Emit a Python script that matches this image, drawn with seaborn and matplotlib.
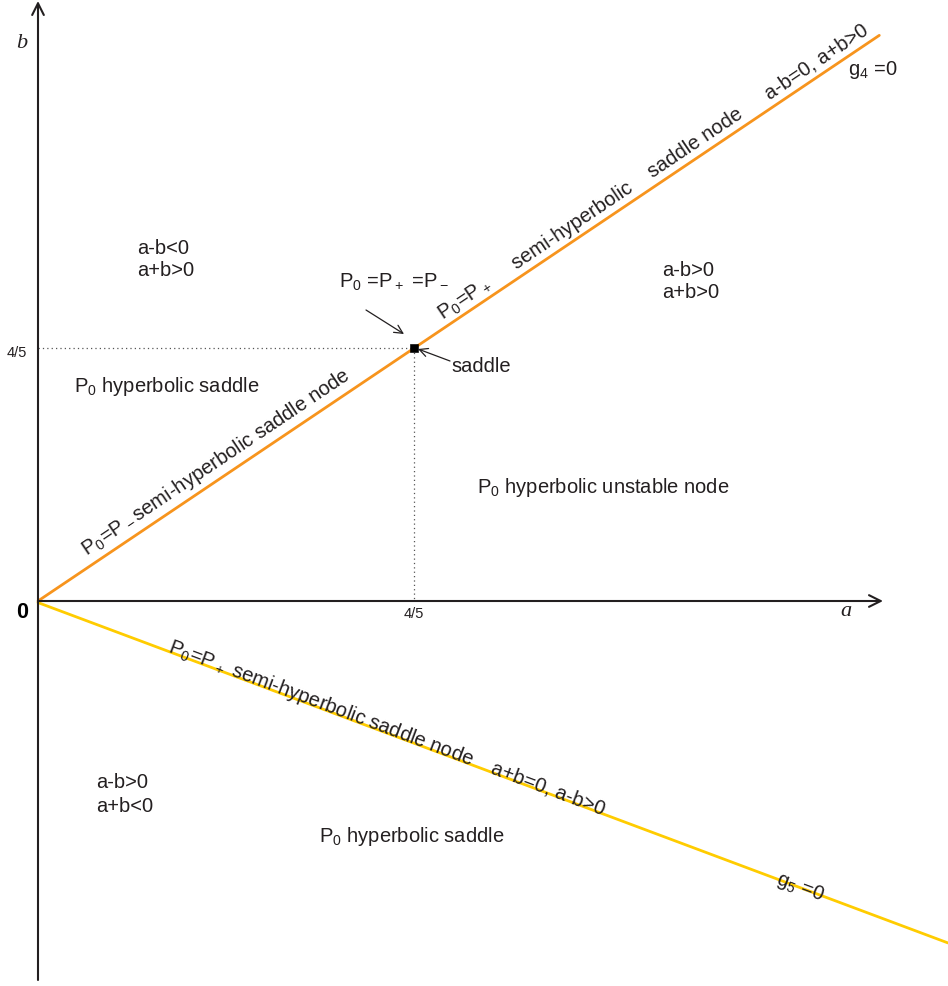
import matplotlib
matplotlib.use("Agg")
import matplotlib.pyplot as plt
import seaborn as sns
import numpy as np

# Bifurcation curves in the (a, b) parameter plane
g4_a = [0.0, 1.79]      # a - b = 0 branch
g4_b = [0.0, 1.79]
g5_a = [0.0, 1.936]     # a + b = 0 branch
g5_b = [-0.005, -1.082]

# special parameter value
crit_a = 0.8
crit_b = 0.8
tick_label = "4/5"

region_labels = [
    ["a-b<0", "a+b>0"],
    ["a-b>0", "a+b>0"],
    ["a-b>0", "a+b<0"],
]

sns.set_theme(style="white")
plt.rcParams["font.family"] = ["Liberation Sans", "DejaVu Sans"]
plt.rcParams["mathtext.default"] = "regular"

INK = "#231F20"
ORANGE = "#F7941D"
YELLOW = "#FFCC00"

fig = plt.figure(figsize=(9.48, 9.86), dpi=100)
ax = fig.add_axes([0, 0, 1, 1])
ax.set_xlim(-38 / 470, 910 / 470)
ax.set_ylim(-385 / 316, 601 / 316)
ax.axis("off")


def P(x, y):
    """pixel position -> (a, b)"""
    return ((x - 38) / 470, (601 - y) / 316)


# coordinate axes with open arrow heads
arrow = dict(arrowstyle="->,head_length=0.7,head_width=0.35", lw=1.5, color=INK,
             shrinkA=0, shrinkB=0)
ax.annotate("", xy=P(38, 1), xytext=P(38, 980), arrowprops=arrow)
ax.annotate("", xy=P(883, 601), xytext=P(38, 601), arrowprops=arrow)

# dotted guides to the critical point
ax.plot([0, crit_a], [crit_b, crit_b], ls=(0, (1, 2.5)), lw=0.9, color="#555555")
ax.plot([crit_a, crit_a], [crit_b, 0], ls=(0, (1, 2.5)), lw=0.9, color="#555555")

# the two curves
sns.lineplot(x=g4_a, y=g4_b, ax=ax, color=ORANGE, lw=2.0, sort=False)
sns.lineplot(x=g5_a, y=g5_b, ax=ax, color=YELLOW, lw=2.0, sort=False)
sns.scatterplot(x=[crit_a], y=[crit_b], ax=ax, marker="s", s=30, color="black",
                edgecolor="black", zorder=5)

# axis labels and ticks
ax.text(*P(22, 44), "b", family="Liberation Serif", style="italic", fontsize=16,
        color=INK, ha="center", va="center")
ax.text(*P(846, 612), "a", family="Liberation Serif", style="italic", fontsize=16,
        color=INK, ha="center", va="center")
ax.text(*P(22, 613), "0", fontsize=15.5, weight="bold", color="black",
        ha="center", va="center")
ax.text(*P(414, 614), tick_label, fontsize=10.5, color=INK, ha="center", va="center")
ax.text(*P(17, 353), tick_label, fontsize=10.5, color=INK, ha="center", va="center")

fs = 14.5
# region labels
for (x, y), lines in zip([(137, 248), (662, 270), (96, 783)], region_labels):
    ax.text(*P(x, y), lines[0], fontsize=fs, color=INK, ha="left", va="center")
    ax.text(*P(x, y + 23), lines[1], fontsize=fs, color=INK, ha="left", va="center")

ax.text(*P(74, 386), r"P$_0$ hyperbolic saddle", fontsize=fs, color=INK,
        ha="left", va="center")
ax.text(*P(477, 488), r"P$_0$ hyperbolic unstable node", fontsize=fs, color=INK,
        ha="left", va="center")
ax.text(*P(319, 837), r"P$_0$ hyperbolic saddle", fontsize=fs, color=INK,
        ha="left", va="center")

# critical point annotations
thin = dict(arrowstyle="->,head_length=0.5,head_width=0.25", lw=0.9, color=INK,
            shrinkA=0, shrinkB=0)
ax.text(*P(339, 282), r"P$_0$ =P$_+$ =P$_-$", fontsize=fs, color=INK,
        ha="left", va="center")
ax.annotate("", xy=P(404, 334), xytext=P(366, 310), arrowprops=thin)
ax.text(*P(451, 366), "saddle", fontsize=fs, color=INK, ha="left", va="center")
ax.annotate("", xy=P(418, 349), xytext=P(450, 361), arrowprops=thin)

# labels along g4 (a-b=0)
rot4 = np.degrees(np.arctan2(316, 470))
for (x, y), s in [((87, 556), r"P$_0$=P$_-$semi-hyperbolic saddle node"),
                  ((443, 321), r"P$_0$=P$_+$"),
                  ((517, 270), "semi-hyperbolic    saddle node"),
                  ((770, 100), "a-b=0, a+b>0")]:
    ax.text(*P(x, y), s, fontsize=fs, color=INK, rotation=rot4,
            rotation_mode="anchor", ha="left", va="baseline")
ax.text(*P(848, 70), r"g$_4$ =0", fontsize=fs, color=INK, ha="left", va="center")

# labels along g5 (a+b=0)
rot5 = -np.degrees(np.arctan2(342, 910))
for (x, y), s in [((167, 651), r"P$_0$=P$_+$ semi-hyperbolic saddle node"),
                  ((490, 773), "a+b=0, a-b>0"),
                  ((775, 883), r"g$_5$ =0")]:
    ax.text(*P(x, y), s, fontsize=fs, color=INK, rotation=rot5,
            rotation_mode="anchor", ha="left", va="baseline")

fig.savefig("out.png", dpi=100)
